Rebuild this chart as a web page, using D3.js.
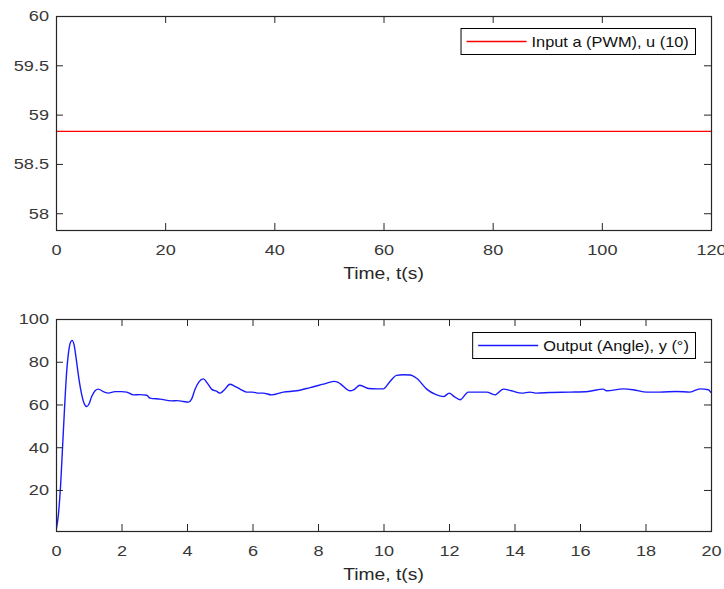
<!DOCTYPE html>
<html>
<head>
<meta charset="utf-8">
<script src="https://cdn.jsdelivr.net/npm/d3@7"></script>
<style>
  html, body { margin: 0; padding: 0; background: #fff; }
  svg { display: block; }
</style>
</head>
<body>
<div id="chart"></div>
<script>
// ---- Input signal (PWM) ----
const inputTime  = [0, 120];
const inputValue = [58.83, 58.83];
const inputXTicks = [0, 20, 40, 60, 80, 100, 120];
const inputYTicks = [58, 58.5, 59, 59.5, 60];
const inputXDomain = [0, 120];
const inputYDomain = [57.83, 60];
const inputLabel = "Input a (PWM), u (10)";

// ---- Output signal (angle) ----
const outputTime = [
  0, 0.07, 0.14, 0.2, 0.26, 0.32, 0.38, 0.44, 0.49, 0.55, 0.62, 0.7, 0.78, 0.86, 0.94,
  1.0, 1.09, 1.2, 1.29, 1.45, 1.6, 1.8, 2.0, 2.16, 2.36, 2.56, 2.77, 2.87, 3.18, 3.53,
  3.7, 3.89, 4.04, 4.14, 4.24, 4.36, 4.5, 4.62, 4.75, 4.9, 5.01, 5.15, 5.31, 5.45, 5.62,
  5.82, 6.0, 6.18, 6.33, 6.58, 6.94, 7.35, 7.76, 8.16, 8.49, 8.6, 8.72, 8.98, 9.1, 9.28,
  9.54, 9.8, 9.99, 10.2, 10.4, 10.6, 10.81, 11.01, 11.32, 11.57, 11.83, 12.01, 12.15, 12.34, 12.59,
  12.9, 13.15, 13.4, 13.66, 13.91, 14.22, 14.47, 14.68, 15.08, 15.7, 16.25, 16.71, 16.81, 17.32, 17.63,
  18.04, 18.44, 18.95, 19.36, 19.66, 19.92, 20
];
const outputAngle = [
  0.8, 8, 22, 40, 58, 74, 84, 89, 90, 88, 81, 72, 65, 60.5, 59,
  60, 63.7, 66.5, 67.2, 66, 65.3, 66, 66, 65.8, 64.5, 64.6, 64.3, 63, 62.5, 61.7,
  61.8, 61.4, 61.1, 62.5, 66.9, 70.5, 72, 70, 67.2, 66.2, 65.3, 67, 69.5, 68.6, 67.2,
  65.8, 65.8, 65.3, 65.3, 64.5, 65.8, 66.4, 67.9, 69.5, 70.8, 70.5, 69.2, 66.4, 67, 69,
  67.5, 67.3, 67.3, 70.8, 73.6, 73.9, 73.8, 72.3, 67.2, 64.8, 63.7, 65.3, 63.8, 62.2, 65.8,
  65.8, 65.8, 64.5, 67.2, 66.4, 65.3, 65.8, 65.3, 65.6, 65.8, 66.1, 67.2, 66.4, 67.3, 66.9,
  65.8, 65.8, 66.1, 65.8, 67.3, 66.9, 65.5
];
const outputXTicks = [0, 2, 4, 6, 8, 10, 12, 14, 16, 18, 20];
const outputYTicks = [20, 40, 60, 80, 100];
const outputXDomain = [0, 20];
const outputYDomain = [0.8, 100];
const outputLabel = "Output (Angle), y (\u00B0)";

const xTitle = "Time, t(s)";

// ---- Layout and style ----
const W = 724, H = 589;
const FONT = "'Liberation Sans', Arial, Helvetica, sans-serif";
const SX = 1.17;           // horizontal text stretch
const AXIS_COLOR = "#262626";
const TEXT_COLOR = "#383838";

const svg = d3.select("#chart").append("svg")
  .attr("width", W).attr("height", H)
  .style("background", "#fff");

function drawPanel(cfg) {
  const { left, right, top, bottom } = cfg.box;
  const x = d3.scaleLinear().domain(cfg.xDomain).range([left, right]);
  const y = d3.scaleLinear().domain(cfg.yDomain).range([bottom, top]);
  const g = svg.append("g");

  // data line, clipped to the axes box
  const clipId = "clip-" + cfg.id;
  svg.append("clipPath").attr("id", clipId)
    .append("rect").attr("x", left).attr("y", top)
    .attr("width", right - left).attr("height", bottom - top);

  const line = d3.line()
    .x((d, i) => x(cfg.xs[i]))
    .y((d, i) => y(cfg.ys[i]))
    .curve(cfg.curve || d3.curveLinear);

  g.append("path")
    .datum(cfg.xs)
    .attr("clip-path", `url(#${clipId})`)
    .attr("d", line)
    .attr("fill", "none")
    .attr("stroke", cfg.color)
    .attr("stroke-width", cfg.width)
    .attr("stroke-linejoin", "round");

  // axes (ticks point inwards on all four sides)
  const tick = 7;
  const gx = g.append("g").attr("transform", `translate(0,${bottom})`)
    .call(d3.axisBottom(x).tickValues(cfg.xTicks).tickSize(-tick).tickPadding(14)
      .tickFormat(d3.format("d")));
  const gxt = g.append("g").attr("transform", `translate(0,${top})`)
    .call(d3.axisTop(x).tickValues(cfg.xTicks).tickSize(-tick).tickFormat(""));
  const gy = g.append("g").attr("transform", `translate(${left},0)`)
    .call(d3.axisLeft(y).tickValues(cfg.yTicks).tickSize(-tick).tickPadding(7)
      .tickFormat(cfg.yFormat));
  const gyr = g.append("g").attr("transform", `translate(${right},0)`)
    .call(d3.axisRight(y).tickValues(cfg.yTicks).tickSize(-tick).tickFormat(""));

  [gx, gxt, gy, gyr].forEach(a => {
    a.select(".domain").remove();
    a.selectAll(".tick line").attr("stroke", AXIS_COLOR).attr("stroke-width", 1);
    a.selectAll("text")
      .attr("fill", TEXT_COLOR)
      .style("font-family", FONT)
      .style("font-size", "15.5px");
  });
  gx.selectAll("text").attr("transform", `scale(${SX},1)`);
  gy.selectAll("text")
    .attr("x", -7 / SX)
    .attr("transform", `scale(${SX},1)`);

  // box
  g.append("rect")
    .attr("x", left + 0.5).attr("y", top + 0.5)
    .attr("width", right - left).attr("height", bottom - top)
    .attr("fill", "none").attr("stroke", AXIS_COLOR).attr("stroke-width", 1.2);

  // x-axis title
  g.append("text")
    .attr("transform", `translate(${(left + right) / 2},${bottom + 49}) scale(${SX},1)`)
    .attr("text-anchor", "middle")
    .attr("fill", "#262626")
    .style("font-family", FONT)
    .style("font-size", "16.5px")
    .text(xTitle);

  // legend
  const lg = g.append("g");
  const lgRight = right - 16, lgTop = top + cfg.legendDy;
  const lgH = 26;
  const txt = lg.append("text")
    .attr("fill", "#111")
    .style("font-family", FONT)
    .style("font-size", "14px")
    .text(cfg.label);
  const tw = txt.node().getBBox().width * SX;
  const lineLen = 60, padL = 6, gap = 5, padR = 6;
  const lgW = padL + lineLen + gap + tw + padR;
  const lgLeft = lgRight - lgW;
  lg.insert("rect", "text")
    .attr("x", lgLeft + 0.5).attr("y", lgTop + 0.5)
    .attr("width", lgW).attr("height", lgH)
    .attr("fill", "#fff").attr("stroke", "#000").attr("stroke-width", 1);
  lg.insert("line", "text")
    .attr("x1", lgLeft + padL).attr("x2", lgLeft + padL + lineLen)
    .attr("y1", lgTop + lgH / 2 + 0.5).attr("y2", lgTop + lgH / 2 + 0.5)
    .attr("stroke", cfg.color).attr("stroke-width", cfg.width);
  txt.attr("transform",
    `translate(${lgLeft + padL + lineLen + gap},${lgTop + lgH / 2 + 5.5}) scale(${SX},1)`);
}

drawPanel({
  id: "input",
  box: { left: 56, right: 711, top: 16, bottom: 230 },
  xs: inputTime, ys: inputValue,
  xDomain: inputXDomain, yDomain: inputYDomain,
  xTicks: inputXTicks, yTicks: inputYTicks,
  yFormat: d => String(d),
  color: "#ff0000", width: 1.3,
  label: inputLabel, legendDy: 12
});

drawPanel({
  id: "output",
  box: { left: 56, right: 711, top: 319, bottom: 531 },
  xs: outputTime, ys: outputAngle,
  xDomain: outputXDomain, yDomain: outputYDomain,
  xTicks: outputXTicks, yTicks: outputYTicks,
  yFormat: d3.format("d"),
  curve: d3.curveMonotoneX,
  color: "#1a1aff", width: 1.4,
  label: outputLabel, legendDy: 13
});
</script>
</body>
</html>
